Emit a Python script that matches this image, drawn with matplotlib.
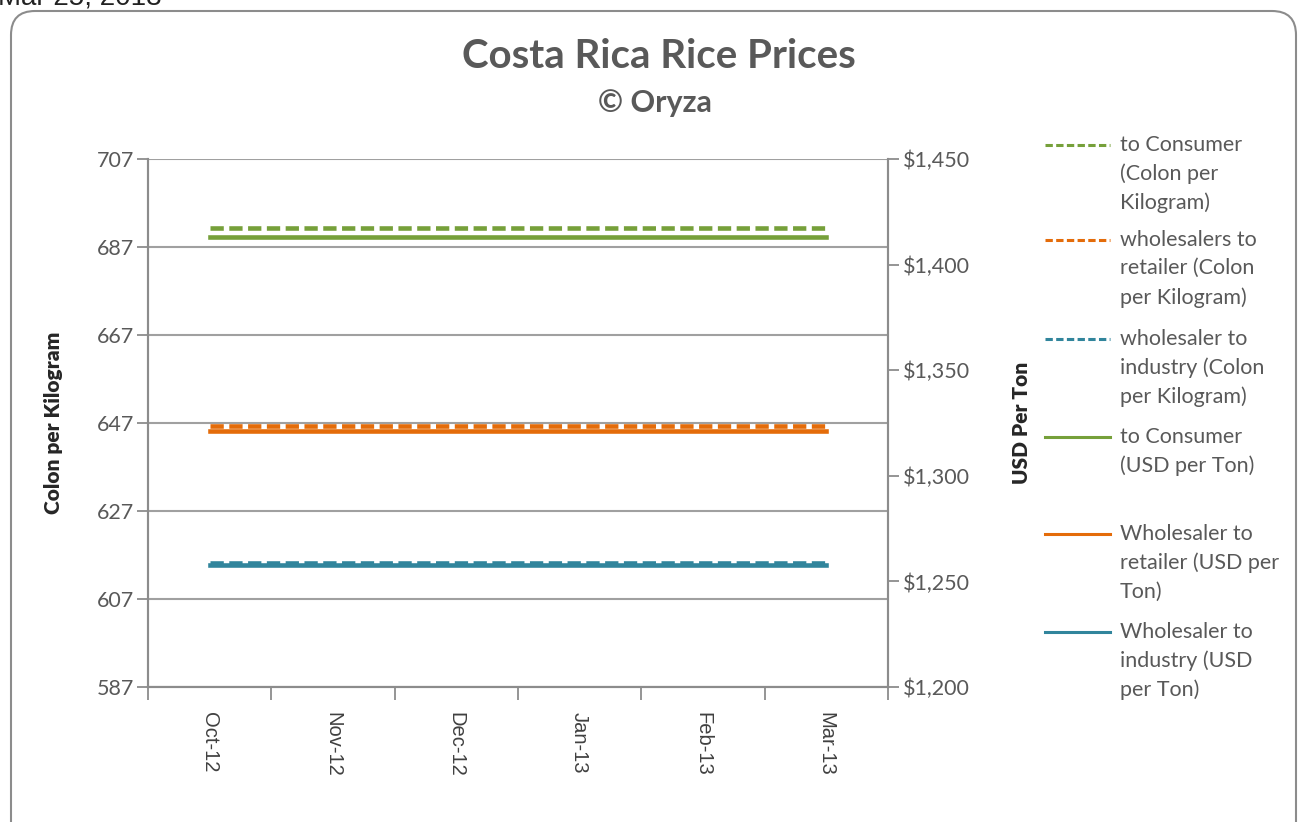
import matplotlib.pyplot as plt
from matplotlib.lines import Line2D
from matplotlib.patches import FancyBboxPatch
from matplotlib.ticker import FuncFormatter

# Monthly prices (flat over the period)
months = ['Oct-12', 'Nov-12', 'Dec-12', 'Jan-13', 'Feb-13', 'Mar-13']
consumer_colon = [691.3, 691.3, 691.3, 691.3, 691.3, 691.3]
retailer_colon = [646.4, 646.4, 646.4, 646.4, 646.4, 646.4]
industry_colon = [615.2, 615.2, 615.2, 615.2, 615.2, 615.2]
consumer_usd = [1413, 1413, 1413, 1413, 1413, 1413]
retailer_usd = [1321, 1321, 1321, 1321, 1321, 1321]
industry_usd = [1258, 1258, 1258, 1258, 1258, 1258]

labels = ['to Consumer\n(Colon per\nKilogram)',
          'wholesalers to\nretailer (Colon\nper Kilogram)',
          'wholesaler to\nindustry (Colon\nper Kilogram)',
          'to Consumer\n(USD per Ton)',
          'Wholesaler to\nretailer (USD per\nTon)',
          'Wholesaler to\nindustry (USD\nper Ton)']

green = '#76A03A'
orange = '#E46C0A'
blue = '#31859C'
text_col = '#595959'
axis_col = '#8C8C8C'

plt.rcParams['font.family'] = ['Lato', 'DejaVu Sans']

fig = plt.figure(figsize=(13.01, 8.22), dpi=100)
ax = fig.add_axes([0.1138, 0.1642, 0.5687, 0.6424])
ax2 = ax.twinx()

x = list(range(len(months)))
lw = 3.3
dash = (2.9, 1.2)
ax.plot(x, consumer_colon, color=green, lw=lw, linestyle=(0, dash))
ax.plot(x, retailer_colon, color=orange, lw=lw, linestyle=(0, dash))
ax.plot(x, industry_colon, color=blue, lw=lw, linestyle=(0, dash))
ax2.plot(x, consumer_usd, color=green, lw=lw)
ax2.plot(x, retailer_usd, color=orange, lw=lw)
ax2.plot(x, industry_usd, color=blue, lw=lw)

ax.set_xlim(-0.5, 5.5)
ax.set_ylim(587, 707)
ax.set_yticks(range(587, 708, 20))
ax2.set_ylim(1200, 1450)
ax2.set_yticks(range(1200, 1451, 50))
ax2.yaxis.set_major_formatter(FuncFormatter(lambda v, p: '${:,.0f}'.format(v)))

ax.set_xticks(x)
ax.set_xticklabels(months, rotation=270, family='Liberation Sans',
                   fontsize=14.5, color='#404040')
ax.set_xticks([i - 0.5 for i in range(len(months) + 1)], minor=True)
ax.tick_params(axis='x', which='major', length=0, pad=18)
ax.tick_params(axis='x', which='minor', length=9, width=1.3, color=axis_col)
ax.tick_params(axis='y', length=8, width=1.3, color=axis_col,
               labelsize=15.5, labelcolor=text_col, pad=2)
ax2.tick_params(axis='y', length=8, width=1.3, color=axis_col,
                labelsize=15.5, labelcolor=text_col, pad=3)

ax.grid(axis='y', color='#A0A0A0', lw=1.5)
ax.set_axisbelow(True)
for a in (ax, ax2):
    a.spines['top'].set_visible(False)
    for side in ('left', 'right', 'bottom'):
        a.spines[side].set_color(axis_col)
        a.spines[side].set_linewidth(1.5)

ax.set_ylabel('Colon per Kilogram', fontsize=15, fontweight='heavy',
              color='#262626', labelpad=24)
ax2.set_ylabel('USD Per Ton', fontsize=15, fontweight='heavy',
               color='#262626', labelpad=30)

fig.text(659 / 1301, 1 - 57 / 822, 'Costa Rica Rice Prices', ha='center',
         va='center', fontsize=29, fontweight='bold', color=text_col)
fig.text(655 / 1301, 1 - 103 / 822, '\u00a9 Oryza', ha='center',
         va='center', fontsize=22, fontweight='bold', color=text_col)

# date stamp cut off at the top
fig.text(-2 / 1301, 1 - 4 / 822, 'Mar 25, 2013', ha='left', va='baseline',
         fontsize=20, family='Liberation Sans', color='#222222')

# chart border
fig.add_artist(FancyBboxPatch((11, -40), 1285, 851, transform=None,
                              boxstyle='round,pad=0,rounding_size=24',
                              fc='none', ec='#8C8C8C', lw=1.5))

# legend
handles = [(green, True), (orange, True), (blue, True),
           (green, False), (orange, False), (blue, False)]
tops = [145, 240, 339, 437, 534, 632]
for (c, dashed), lab, yt in zip(handles, labels, tops):
    yf = 1 - yt / 822
    ln = Line2D([1045 / 1301, 1110 / 1301], [yf, yf], transform=fig.transFigure,
                color=c, lw=2.2, linestyle=(0, (2.4, 1.1)) if dashed else '-')
    fig.add_artist(ln)
    fig.text(1120 / 1301, yf + 10 / 822, lab, ha='left', va='top',
             fontsize=15.5, color=text_col, linespacing=1.52)

fig.savefig('out.png', dpi=100)
